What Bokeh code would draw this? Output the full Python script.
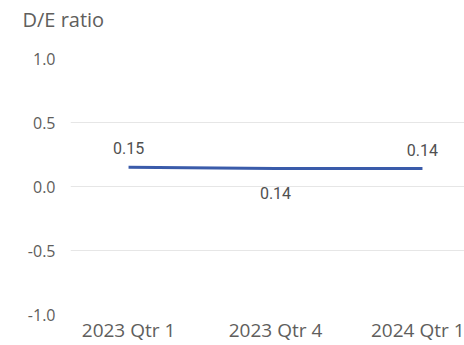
from bokeh.plotting import figure
from bokeh.models import FixedTicker, Range1d, ColumnDataSource, LabelSet, Title
from bokeh.core.properties import value
from bokeh.embed import file_html
from bokeh.resources import INLINE

title_text = "D/E ratio"
quarters = ["2023 Qtr 1", "2023 Qtr 4", "2024 Qtr 1"]
de_ratio = [0.15, 0.14, 0.14]
label_pos = ["above", "below", "above"]
y_ticks = [-1.0, -0.5, 0.0, 0.5, 1.0]

xs = list(range(len(quarters)))
above = [i for i, p in enumerate(label_pos) if p == "above"]
below = [i for i, p in enumerate(label_pos) if p == "below"]

p = figure(width=464, height=345, output_backend="svg", toolbar_location=None,
           x_range=Range1d(-0.395, 2.286), y_range=Range1d(-1.0, 1.0),
           min_border_left=70, min_border_right=0, min_border_top=58, min_border_bottom=30)

# real title (outer panel)
p.title.text = title_text
p.title.text_font = "Open Sans"
p.title.text_font_size = "20px"
p.title.text_font_style = "normal"
p.title.text_color = "#605E5C"
p.title.align = "left"
p.title.offset = -48
p.title.standoff = 0

# spacer title (added panel sits next to the frame) keeps the real title higher
p.add_layout(Title(text=" ", text_font_size="1px", standoff=23), "above")

p.outline_line_color = None
p.background_fill_color = "white"
p.border_fill_color = "white"

p.xgrid.grid_line_color = None
p.ygrid.grid_line_color = "#E6E6E6"
p.ygrid.grid_line_width = 1

p.yaxis.ticker = FixedTicker(ticks=y_ticks)
p.yaxis.major_label_overrides = {t: f"{t:.1f}" for t in y_ticks}
p.xaxis.ticker = FixedTicker(ticks=xs)
p.xaxis.major_label_overrides = {i: q for i, q in zip(xs, quarters)}

for ax in (p.xaxis, p.yaxis):
    ax.axis_line_color = None
    ax.major_tick_line_color = None
    ax.minor_tick_line_color = None
    ax.major_tick_out = 0
    ax.major_tick_in = 0
    ax.minor_tick_out = 0
    ax.minor_tick_in = 0
    ax.major_label_text_font = "Open Sans"
    ax.major_label_text_color = "#605E5C"
p.yaxis.major_label_text_font_size = "16px"
p.xaxis.major_label_text_font_size = "19px"
p.yaxis.major_label_standoff = 15
p.xaxis.major_label_standoff = 2

src = ColumnDataSource(dict(x=xs, y=de_ratio))
p.line("x", "y", source=src, line_color="#3A5BAA", line_width=3)

src_a = ColumnDataSource(dict(x=[xs[i] for i in above], y=[de_ratio[i] for i in above],
                              t=[f"{de_ratio[i]:.2f}" for i in above]))
src_b = ColumnDataSource(dict(x=[xs[i] for i in below], y=[de_ratio[i] for i in below],
                              t=[f"{de_ratio[i]:.2f}" for i in below]))
p.add_layout(LabelSet(x="x", y="y", text="t", source=src_a, y_offset=13,
                      text_align="center", text_baseline="alphabetic",
                      text_font=value("Roboto"), text_font_size=value("16px"),
                      text_color=value("#505050")))
p.add_layout(LabelSet(x="x", y="y", text="t", source=src_b, y_offset=-30,
                      text_align="center", text_baseline="alphabetic",
                      text_font=value("Roboto"), text_font_size=value("16px"),
                      text_color=value("#505050")))

open("out.html", "w").write(file_html(p, INLINE))
